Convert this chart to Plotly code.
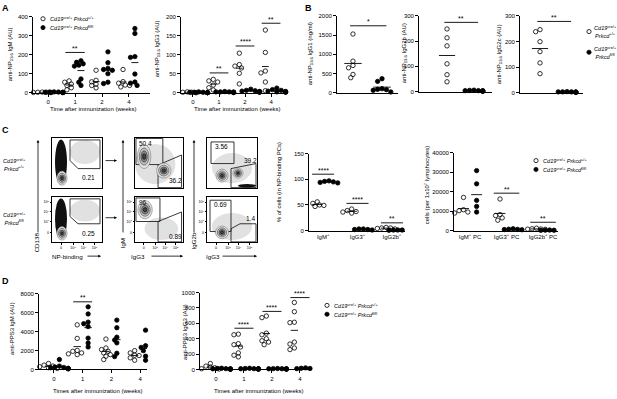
import numpy as np
import plotly.graph_objects as go

W, H = 617, 399
FONT = "Liberation Sans, Arial, Helvetica, sans-serif"

# ---------------- data ----------------
week_labels = ["0", "1", "2", "4"]
wt_label = "<i>Cd19</i><sup>cre/+</sup> <i>Prkcd</i><sup>+/+</sup>"
ko_label = "<i>Cd19</i><sup>cre/+</sup> <i>Prkcd</i><sup>fl/fl</sup>"

igm_np_wt = [[2, 1, 0, 3, 1, 2], [62, 55, 45, 38, 26, 15], [118, 65, 57, 45, 38, 25], [122, 58, 50, 40, 38, 30]]
igm_np_ko = [[3, 1, 2, 0, 4, 2, 1, 3], [168, 160, 152, 145, 140, 72, 55, 38],
             [215, 158, 128, 122, 118, 100, 55, 48], [338, 312, 190, 186, 98, 56, 50, 38]]
igm_np_sig = ["", "**", "", ""]
igm_np_sig_y = [None, 212, None, None]

igg3_np_wt = [[1, 0, 2, 1, 0, 1], [35, 31, 28, 20, 13, 7], [104, 74, 70, 65, 51, 23], [165, 106, 57, 52, 28, 5]]
igg3_np_ko = [[0, 1, 0, 2, 1, 0, 1, 0], [2, 1, 3, 1, 0, 2, 1, 2], [9, 6, 5, 4, 3, 2, 1, 2], [12, 8, 6, 4, 3, 2, 1, 2]]
igg3_np_sig = ["", "**", "****", "**"]
igg3_np_sig_y = [None, 52, 123, 183]

igg1_wt = [1526, 819, 707, 647, 474, 388]
igg1_ko = [362, 293, 103, 86, 78, 60, 17]
igg2b_wt = [248, 213, 181, 110, 67, 39]
igg2b_ko = [5, 3, 4, 2, 6, 3, 2, 4]
igg2c_wt = [246, 238, 199, 160, 116, 74]
igg2c_ko = [3, 2, 4, 3, 1, 2, 3, 2]
b_sig = ["*", "**", "**"]
b_sig_y = [1740, 274, 278]

pc_cats = ["IgM<sup>+</sup>", "IgG3<sup>+</sup>", "IgG2b<sup>+</sup>"]
pc_pct_wt = [[56, 53, 50, 47, 49], [42, 39, 36, 34, 37], [6, 5, 4, 5, 3]]
pc_pct_ko = [[95, 96, 94, 93, 97], [3, 2, 2, 1, 3], [1, 1, 0.5, 1, 0.5]]
pc_pct_sig = ["****", "****", "**"]
pc_pct_sig_y = [110, 53, 15]

pc_num_cats = ["IgM<sup>+</sup> PC", "IgG3<sup>+</sup> PC", "IgG2b<sup>+</sup> PC"]
pc_num_wt = [[17000, 10700, 10200, 9500, 9000], [16200, 8200, 7700, 6500, 5300], [1200, 900, 700, 600, 800]]
pc_num_ko = [[30800, 24000, 15500, 12400, 9500], [900, 700, 500, 600, 400], [200, 150, 100, 250, 100]]
pc_num_sig = ["", "**", "**"]
pc_num_sig_y = [None, 19200, 4250]

igm_pps3_wt = [[620, 450, 350, 280, 180, 100], [4700, 3270, 2000, 1910, 1740, 1640, 1560],
               [3200, 2260, 2090, 1910, 1740, 1560, 1390, 1040], [1980, 1740, 1500, 1460, 1220, 970]]
igm_pps3_ko = [[1040, 350, 250, 200, 180, 120, 80, 60], [6600, 5850, 4990, 4820, 4520, 3300, 2780, 2370],
               [5200, 4400, 3400, 3100, 2800, 1700, 1350], [4140, 2500, 2320, 2160, 1980, 1390, 970]]
igm_pps3_sig = ["", "**", "", ""]
igm_pps3_sig_y = [None, 7130, None, None]

igg3_pps3_wt = [[77, 43, 30, 21, 9, 5], [459, 451, 335, 322, 292, 215, 185, 163],
                [695, 674, 472, 451, 399, 373, 356, 322], [871, 751, 614, 609, 356, 330, 279, 258]]
igg3_pps3_ko = [[15, 10, 5, 8, 3, 12, 6, 4], [15, 10, 8, 5, 12, 6, 4, 9],
                [12, 8, 10, 6, 5, 9, 4, 7], [15, 12, 20, 8, 6, 10, 5, 9]]
igg3_pps3_sig = ["", "****", "****", "****"]
igg3_pps3_sig_y = [None, 536, 755, 935]

# flow cytometry gate frequencies (top row: +/+, bottom row: fl/fl)
flow_np_pct = ["0.21", "0.25"]
flow_igm_pct = ["50.4", "96"]
flow_igg3_pct = ["36.2", "0.89"]
flow_igg2b_pct = ["3.56", "0.69"]
flow_igg3b_pct = ["39.2", "1.4"]

# ---------------- helpers ----------------
layout = dict(width=W, height=H, margin=dict(l=0, r=0, t=0, b=0),
              paper_bgcolor="white", plot_bgcolor="white", showlegend=False,
              font=dict(family=FONT, size=6, color="black"))
annotations = []
shapes = []
fig = go.Figure()


def sfx(i):
    return "" if i == 1 else str(i)


def px(x):
    return x / W


def py(y):
    return 1 - y / H


def make_axes(i, xpx, ypx, xr, yr, xtv=None, xtt=None, ytv=None, ytt=None, box=False,
              tfs=6, tlen=3):
    s = sfx(i)
    common = dict(showgrid=False, zeroline=False, showline=True, linecolor="black",
                  linewidth=0.8, tickwidth=0.8, ticklen=tlen, tickcolor="black",
                  tickfont=dict(size=tfs, family=FONT, color="black"), fixedrange=True,
                  mirror=box)
    xa = dict(common, domain=[px(xpx[0]), px(xpx[1])], range=xr, anchor="y" + s,
              ticks="outside" if xtv else "", showticklabels=bool(xtv),
              tickvals=xtv or [], ticktext=xtt or [])
    ya = dict(common, domain=[py(ypx[1]), py(ypx[0])], range=yr, anchor="x" + s,
              ticks="outside" if ytv else "", showticklabels=bool(ytv),
              tickvals=ytv or [], ticktext=ytt or [])
    layout["xaxis" + s] = xa
    layout["yaxis" + s] = ya
    return (xpx[1] - xpx[0]) / (xr[1] - xr[0]), (ypx[1] - ypx[0]) / (yr[1] - yr[0])


def swarm(vals, ppu_x, ppu_y, d=4.4):
    vals = np.asarray(vals, float)
    order = np.argsort(-vals)
    placed = []
    offs = np.zeros(len(vals))
    for idx in order:
        y = vals[idx] * ppu_y
        for k in [0, -1, 1, -2, 2, -3, 3, -4, 4]:
            x = k * d * 0.5
            if all((x - a) ** 2 + (y - b) ** 2 >= (d * 0.8) ** 2 for a, b in placed):
                break
        placed.append((x, y))
        offs[idx] = x / ppu_x
    return offs


def group(i, center, vals, filled, ppu, mw):
    s = sfx(i)
    xs = center + swarm(vals, ppu[0], ppu[1])
    fig.add_trace(go.Scatter(
        x=xs, y=vals, mode="markers", xaxis="x" + s, yaxis="y" + s, cliponaxis=False,
        hoverinfo="skip",
        marker=dict(symbol="circle" if filled else "circle-open", size=4.4, color="black",
                    line=dict(width=0.8, color="black"))))
    m = float(np.mean(vals))
    fig.add_trace(go.Scatter(x=[center - mw, center + mw], y=[m, m], mode="lines",
                             xaxis="x" + s, yaxis="y" + s, cliponaxis=False, hoverinfo="skip",
                             line=dict(color="black", width=0.9)))


def sig(i, x0, x1, y, label):
    s = sfx(i)
    fig.add_trace(go.Scatter(x=[x0, x1], y=[y, y], mode="lines", xaxis="x" + s, yaxis="y" + s,
                             cliponaxis=False, hoverinfo="skip",
                             line=dict(color="black", width=0.9)))
    annotations.append(dict(x=(x0 + x1) / 2, y=y, xref="x" + s, yref="y" + s, text=label,
                            showarrow=False, yanchor="bottom", yshift=-1.5,
                            font=dict(size=7, family=FONT)))


def text(x, y, t, size=6, angle=0, xanchor="center", bold=False):
    if bold:
        t = "<b>" + t + "</b>"
    annotations.append(dict(x=px(x), y=py(y), xref="paper", yref="paper", text=t,
                            showarrow=False, textangle=angle, xanchor=xanchor, yanchor="middle",
                            font=dict(size=size, family=FONT, color="black")))


def legend_item(x, y, filled, label, tx=None, r=2.1):
    shapes.append(dict(type="circle", xref="paper", yref="paper",
                       x0=px(x - r), x1=px(x + r), y0=py(y + r), y1=py(y - r),
                       line=dict(color="black", width=0.8),
                       fillcolor="black" if filled else "white"))
    text(tx if tx else x + 4.5, y, label, size=5.6, xanchor="left")


def timecourse(i, xpx, ypx, xr, ymax, ystep, wt, ko, sl, sy, off):
    yt = list(range(0, ymax + 1, ystep))
    ppu = make_axes(i, xpx, ypx, xr, [0, ymax], list(range(4)), week_labels,
                    yt, [str(v) for v in yt])
    for k in range(4):
        group(i, k - off, wt[k], False, ppu, 0.13)
        group(i, k + off, ko[k], True, ppu, 0.13)
        if sl[k]:
            sig(i, k - off - 0.14, k + off + 0.14, sy[k], sl[k])


# ---------------- panel A ----------------
timecourse(1, [33, 150], [14, 91], [-0.56, 3.78], 400, 100, igm_np_wt, igm_np_ko,
           igm_np_sig, igm_np_sig_y, 0.22)
timecourse(2, [181, 288], [14, 91], [-0.46, 3.65], 200, 50, igg3_np_wt, igg3_np_ko,
           igg3_np_sig, igg3_np_sig_y, 0.22)
text(5, 5, "A", size=9, bold=True)
text(10, 52, "anti-NP<sub>13.6</sub> IgM (AU)", angle=-90)
text(157, 47, "anti-NP<sub>13.6</sub> IgG3 (AU)", angle=-90)
text(93, 108, "Time after immunization (weeks)")
text(237, 108, "Time after immunization (weeks)")
legend_item(43, 16, False, wt_label)
legend_item(43, 25, True, ko_label)

# ---------------- panel B ----------------
b_specs = [
    (3, [337, 398], [13, 91], [-0.55, 1.55], 2000, 500, igg1_wt, igg1_ko),
    (4, [419, 492], [13, 90], [-1.04, 1.67], 300, 100, igg2b_wt, igg2b_ko),
    (5, [520, 583], [13, 91], [-0.74, 1.59], 300, 100, igg2c_wt, igg2c_ko),
]
for n, (i, xp, yp, xr, ymax, ystep, wt, ko) in enumerate(b_specs):
    yt = list(range(0, ymax + 1, ystep))
    ppu = make_axes(i, xp, yp, xr, [0, ymax], None, None, yt, [str(v) for v in yt])
    group(i, 0, wt, False, ppu, 0.3)
    group(i, 1, ko, True, ppu, 0.3)
    sig(i, -0.1, 1.15, b_sig_y[n], b_sig[n])
text(308, 5, "B", size=9, bold=True)
text(310, 52, "anti-NP<sub>13.6</sub> IgG1 (ng/ml)", angle=-90)
text(404, 51, "anti-NP<sub>13.6</sub> IgG2b (AU)", angle=-90)
text(499, 52, "anti-NP<sub>13.6</sub> IgG2c (AU)", angle=-90)
legend_item(589, 29, False, "<i>Cd19</i><sup>cre/+</sup><br><i>Prkcd</i><sup>+/+</sup>", tx=592)
legend_item(589, 50, True, "<i>Cd19</i><sup>cre/+</sup><br><i>Prkcd</i><sup>fl/fl</sup>", tx=592)

# ---------------- panel C : dot plots ----------------
yt = [0, 50, 100, 150]
ppu = make_axes(12, [309, 405], [153, 231], [-0.41, 2.38], [0, 150], [0, 1, 2], pc_cats,
                yt, [str(v) for v in yt])
layout["xaxis12"]["ticks"] = ""
for k in range(3):
    group(12, k - 0.17, pc_pct_wt[k], False, ppu, 0.15)
    group(12, k + 0.17, pc_pct_ko[k], True, ppu, 0.15)
    sig(12, k - 0.32, k + 0.32, pc_pct_sig_y[k], pc_pct_sig[k])

yt = [0, 10000, 20000, 30000, 40000]
ppu = make_axes(13, [454, 558], [152, 231], [-0.44, 2.41], [0, 40000], [0, 1, 2], pc_num_cats,
                yt, [str(v) for v in yt])
layout["xaxis13"]["ticks"] = ""
for k in range(3):
    group(13, k - 0.18, pc_num_wt[k], False, ppu, 0.15)
    group(13, k + 0.18, pc_num_ko[k], True, ppu, 0.15)
    if pc_num_sig[k]:
        sig(13, k - 0.35, k + 0.35, pc_num_sig_y[k], pc_num_sig[k])
text(279, 182, "% of cells (in NP-binding PCs)", angle=-90)
text(427, 185, "cells (per 1x10<sup>7</sup> lymphocytes)", angle=-90)
legend_item(536, 160, False, wt_label)
legend_item(536, 169, True, ko_label)

# ---------------- panel C : flow plots ----------------
flow_boxes = {6: ([52, 102], [137, 188]), 7: ([52, 102], [197, 243]),
              8: ([135, 183], [137, 188]), 9: ([135, 183], [197, 243]),
              10: ([207, 257], [137, 188]), 11: ([207, 257], [197, 243])}
log_tv = [0.18, 0.42, 0.63, 0.85]
log_tt = ["0", "10<sup>3</sup>", "10<sup>4</sup>", "10<sup>5</sup>"]
log_yv = [0.22, 0.46, 0.67, 0.89]
for i, (xp, yp) in flow_boxes.items():
    bottom = i in (7, 9, 11)
    make_axes(i, xp, yp, [0, 1], [0, 1], log_tv if bottom else None, log_tt if bottom else None,
              log_yv if bottom else None, log_tt if bottom else None, box=True, tfs=3.6, tlen=1.5)

# populations: (axis, cx, cy, rx, ry, kind)
flow_pops = [
    (6, 0.66, 0.72, 0.30, 0.24, "cloud"), (6, 0.18, 0.52, 0.12, 0.45, "dark"), (6, 0.2, 0.2, 0.1, 0.14, "contour"),
    (7, 0.66, 0.70, 0.30, 0.24, "cloud"), (7, 0.18, 0.52, 0.12, 0.45, "dark"), (7, 0.2, 0.2, 0.1, 0.15, "contour"),
    (8, 0.42, 0.48, 0.42, 0.40, "cloud"), (8, 0.19, 0.63, 0.14, 0.24, "contour"), (8, 0.6, 0.35, 0.15, 0.15, "contour"),
    (9, 0.55, 0.30, 0.35, 0.25, "cloud"), (9, 0.21, 0.72, 0.15, 0.2, "contour"),
    (10, 0.5, 0.40, 0.40, 0.30, "cloud"), (10, 0.3, 0.25, 0.12, 0.13, "contour"),
    (10, 0.62, 0.3, 0.1, 0.1, "contour"), (10, 0.8, 0.05, 0.18, 0.035, "dark"),
    (11, 0.5, 0.35, 0.40, 0.30, "cloud"), (11, 0.3, 0.22, 0.13, 0.14, "contour"),
]
for i, cx, cy, rx, ry, kind in flow_pops:
    s = sfx(i)
    if kind == "cloud":
        shapes.append(dict(type="circle", xref="x" + s, yref="y" + s, x0=cx - rx, x1=cx + rx,
                           y0=cy - ry, y1=cy + ry, line=dict(width=0), fillcolor="#c8c8c8",
                           opacity=0.55, layer="below"))
    elif kind == "dark":
        shapes.append(dict(type="circle", xref="x" + s, yref="y" + s, x0=cx - rx, x1=cx + rx,
                           y0=cy - ry, y1=cy + ry, line=dict(width=0), fillcolor="#111111"))
    else:
        for f, col, fill in [(1.0, "#777777", "#e4e4e4"), (0.72, "#444444", "#bdbdbd"),
                             (0.46, "#222222", "#888888"), (0.24, "#000000", "#444444")]:
            shapes.append(dict(type="circle", xref="x" + s, yref="y" + s,
                               x0=cx - rx * f, x1=cx + rx * f, y0=cy - ry * f, y1=cy + ry * f,
                               line=dict(width=0.6, color=col), fillcolor=fill))

# gates: (axis, u list, v list)
flow_gates = [
    (6, [0.36, 0.96, 0.96, 0.52, 0.36, 0.36], [0.96, 0.96, 0.39, 0.39, 0.55, 0.96]),
    (7, [0.36, 0.96, 0.96, 0.52, 0.36, 0.36], [0.96, 0.96, 0.41, 0.41, 0.57, 0.96]),
    (8, [0.02, 0.58, 0.58, 0.02, 0.02], [0.99, 0.99, 0.47, 0.47, 0.99]),
    (8, [0.48, 0.48, 0.97, 0.97, 0.48], [0.01, 0.46, 0.66, 0.01, 0.01]),
    (9, [0.02, 0.52, 0.52, 0.02, 0.02], [0.98, 0.98, 0.46, 0.46, 0.98]),
    (9, [0.48, 0.48, 0.97, 0.97, 0.48], [0.01, 0.46, 0.67, 0.01, 0.01]),
    (10, [0.08, 0.54, 0.54, 0.08, 0.08], [0.92, 0.92, 0.49, 0.49, 0.92]),
    (10, [0.48, 0.48, 0.98, 0.98, 0.48], [0.01, 0.39, 0.49, 0.01, 0.01]),
    (11, [0.06, 0.48, 0.48, 0.06, 0.06], [0.93, 0.93, 0.24, 0.24, 0.93]),
    (11, [0.48, 0.48, 0.66, 0.98, 0.98, 0.48], [0.01, 0.3, 0.41, 0.41, 0.01, 0.01]),
]
for i, u, v in flow_gates:
    s = sfx(i)
    fig.add_trace(go.Scatter(x=u, y=v, mode="lines", xaxis="x" + s, yaxis="y" + s,
                             hoverinfo="skip", line=dict(color="#222222", width=0.9)))

# gate labels: (axis, u, v, text, anchor)
flow_labels = [
    (6, 0.72, 0.22, flow_np_pct[0], "center"), (7, 0.72, 0.2, flow_np_pct[1], "center"),
    (8, 0.04, 0.89, flow_igm_pct[0], "left"), (8, 0.84, 0.16, flow_igg3_pct[0], "center"),
    (9, 0.05, 0.89, flow_igm_pct[1], "left"), (9, 0.84, 0.13, flow_igg3_pct[1], "center"),
    (10, 0.12, 0.82, flow_igg2b_pct[0], "left"), (10, 0.86, 0.56, flow_igg3b_pct[0], "center"),
    (11, 0.1, 0.83, flow_igg2b_pct[1], "left"), (11, 0.86, 0.53, flow_igg3b_pct[1], "center"),
]
for i, u, v, t, anc in flow_labels:
    s = sfx(i)
    annotations.append(dict(x=u, y=v, xref="x" + s, yref="y" + s, text=t, showarrow=False,
                            xanchor=anc, yanchor="middle", font=dict(size=6.5, family=FONT)))

text(5, 129, "C", size=9, bold=True)
text(28, 164, "<i>Cd19</i><sup>cre/+</sup><br><i>Prkcd</i><sup>+/+</sup>", size=5.6, xanchor="right")
text(28, 219, "<i>Cd19</i><sup>cre/+</sup><br><i>Prkcd</i><sup>fl/fl</sup>", size=5.6, xanchor="right")


def arrow(x, y, ax, ay):
    annotations.append(dict(x=px(x), y=py(y), xref="paper", yref="paper", ax=ax, ay=ay,
                            axref="pixel", ayref="pixel", text="", showarrow=True,
                            arrowhead=2, arrowsize=0.7, arrowwidth=0.8, arrowcolor="black"))


for xa_ in (38, 123, 194):
    arrow(xa_, 139, 0, 94)
text(36, 243, "CD138", size=6.2, angle=-90)
text(122, 244, "IgM", size=6.2, angle=-90)
text(193, 242, "IgG2b", size=6.2, angle=-90)
text(67, 257, "NP-binding", size=6.2)
arrow(101, 257, -15, 0)
text(138, 257, "IgG3", size=6.2)
arrow(183, 257, -33, 0)
text(213, 257, "IgG3", size=6.2)
arrow(257, 257, -36, 0)
arrow(117, 160, -13, 0)
arrow(117, 218, -13, 0)

# ---------------- panel D ----------------
timecourse(14, [39, 147], [295, 372], [-0.52, 3.24], 8000, 2000, igm_pps3_wt, igm_pps3_ko,
           igm_pps3_sig, igm_pps3_sig_y, 0.19)
timecourse(15, [200, 312], [294, 372], [-0.57, 3.43], 1000, 200, igg3_pps3_wt, igg3_pps3_ko,
           igg3_pps3_sig, igg3_pps3_sig_y, 0.2)
text(5, 282, "D", size=9, bold=True)
text(12, 331, "anti-PPS3 IgM (AU)", angle=-90)
text(185, 334, "anti-PPS3 IgG3 (AU)", angle=-90)
text(97, 394, "Times after immunization (weeks)")
text(258, 394, "Times after immunization (weeks)")
legend_item(327, 307, False, wt_label)
legend_item(327, 316, True, ko_label)

layout["annotations"] = annotations
layout["shapes"] = shapes
fig.update_layout(**layout)
fig.write_html("out.html", config={"displayModeBar": False},
               post_script="document.body.style.margin='0';document.body.style.overflow='hidden';")
